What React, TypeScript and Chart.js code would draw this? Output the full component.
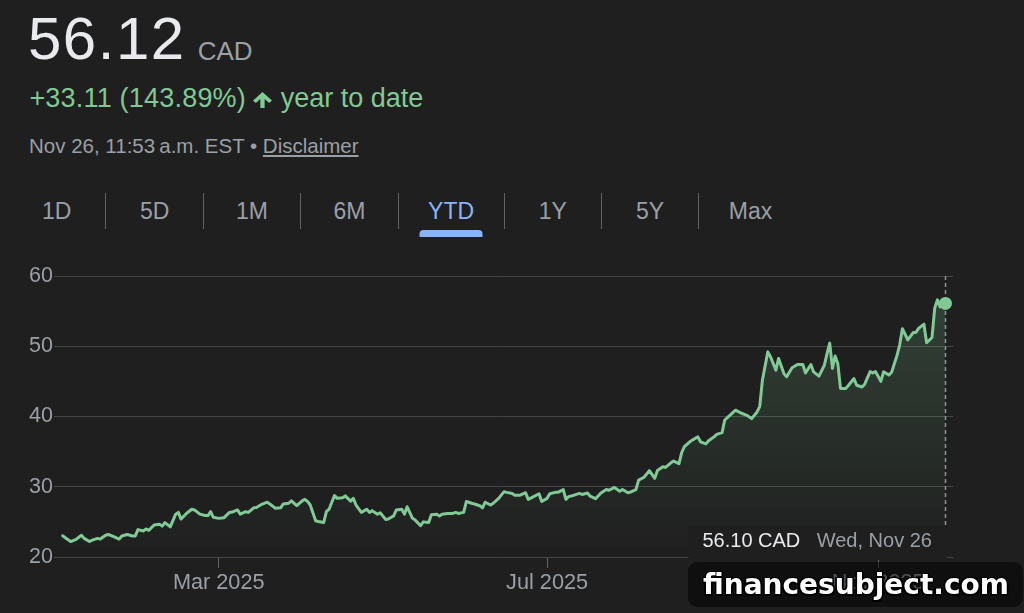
import React, { useEffect, useRef } from 'react';
import { Chart, registerables } from 'chart.js';

Chart.register(...registerables);

// ---------- data ----------
// day of year (Jan 1 = 0), 2025, trading days
const days = [
  1, 2, 4, 6, 8, 9, 11, 12, 14, 15,
  17, 18, 20, 22, 23, 25, 27, 28, 29, 31,
  32, 33, 35, 37, 38, 39, 41, 43, 44, 45,
  47, 49, 50, 52, 54, 55, 56, 57, 59, 61,
  63, 64, 66, 67, 69, 70, 72, 73, 75, 77,
  78, 80, 82, 83, 85, 86, 88, 90, 91, 92,
  93, 95, 96, 98, 99, 100, 102, 103, 105, 106,
  108, 109, 110, 112, 114, 115, 116, 118, 119, 121,
  122, 124, 125, 127, 128, 129, 131, 132, 134, 135,
  137, 138, 140, 141, 142, 144, 146, 147, 148, 150,
  151, 153, 154, 156, 157, 158, 160, 161, 163, 165,
  166, 168, 169, 171, 173, 174, 176, 178, 179, 181,
  182, 184, 185, 187, 188, 189, 191, 193, 194, 196,
  197, 199, 201, 203, 204, 206, 208, 209, 211, 212,
  214, 215, 217, 219, 221, 222, 224, 225, 227, 228,
  230, 231, 232, 234, 235, 237, 238, 240, 241, 243,
  244, 246, 247, 249, 251, 253, 255, 257, 259, 260,
  261, 263, 264, 266, 267, 269, 270, 272, 274, 276,
  277, 279, 280, 282, 284, 285, 286, 287, 288, 289,
  290, 292, 293, 295, 296, 298, 299, 301, 302, 303,
  305, 306, 308, 309, 311, 312, 313, 315, 317, 318,
  319, 321, 322, 324, 325, 326, 327, 329,
];

const prices = [
  23.03, 22.75, 22.2, 22.5, 23.1, 22.65, 22.2, 22.4, 22.65, 22.55,
  23.1, 23.2, 22.9, 22.55, 23.0, 23.2, 23.0, 23.0, 23.9, 23.7,
  24.0, 23.8, 24.55, 24.65, 24.4, 24.9, 24.3, 26.1, 26.35, 25.4,
  26.2, 26.8, 26.7, 26.1, 25.9, 25.9, 26.45, 25.65, 25.5, 25.6,
  26.35, 26.4, 26.7, 26.1, 26.45, 26.35, 27.0, 27.05, 27.5, 27.8,
  27.55, 26.95, 27.0, 27.55, 27.65, 28.0, 27.3, 28.0, 28.2, 27.9,
  27.4, 25.15, 25.05, 24.9, 26.45, 26.8, 28.75, 28.35, 28.45, 28.7,
  27.95, 28.35, 27.4, 26.35, 26.8, 26.35, 26.6, 26.1, 26.3, 25.35,
  25.4, 25.85, 26.7, 26.8, 26.1, 27.15, 25.5, 25.25, 24.45, 25.0,
  24.9, 26.0, 26.1, 25.85, 26.1, 26.2, 26.2, 26.35, 26.2, 26.35,
  27.9, 27.65, 27.55, 27.3, 27.0, 27.8, 27.4, 27.65, 28.35, 29.3,
  29.2, 29.05, 28.8, 28.8, 29.15, 28.2, 28.6, 29.0, 27.9, 28.35,
  29.0, 29.2, 29.2, 29.6, 28.2, 28.6, 28.8, 29.05, 28.9, 29.1,
  28.65, 28.3, 29.1, 29.6, 29.5, 29.9, 29.35, 29.6, 29.15, 29.25,
  29.6, 30.95, 31.35, 32.3, 31.2, 32.3, 32.85, 32.75, 33.4, 33.65,
  33.3, 34.85, 35.7, 36.4, 36.65, 37.1, 36.4, 36.1, 36.55, 37.1,
  37.45, 37.7, 39.5, 40.2, 40.9, 40.5, 40.2, 39.7, 40.65, 41.4,
  45.2, 49.2, 48.5, 46.6, 48.25, 46.1, 45.65, 46.95, 47.4, 47.4,
  46.2, 47.4, 46.35, 45.75, 47.3, 48.95, 50.45, 46.85, 48.6, 47.55,
  44.0, 44.0, 44.45, 45.4, 44.45, 44.2, 44.6, 46.4, 46.2, 46.4,
  45.0, 46.35, 45.9, 46.3, 48.7, 50.2, 52.5, 50.9, 51.95, 51.95,
  52.55, 53.15, 50.5, 51.25, 55.4, 56.6, 55.6, 56.1,
];

const xTickDays = [59, 181, 304];
const xTickLabels = ['Mar 2025', 'Jul 2025', 'Nov 2025'];
const yTicks = [20, 30, 40, 50, 60];
const X_MIN = -2.2;
const X_MAX = 331.8;

const tabs = ['1D', '5D', '1M', '6M', 'YTD', '1Y', '5Y', 'Max'];
const activeTab = 'YTD';

const priceText = '56.12';
const currencyText = 'CAD';
const changeText = '+33.11 (143.89%)';
const periodText = 'year to date';
const dateText = 'Nov 26, 11:53\u202Fa.m. EST \u2022 ';
const disclaimerText = 'Disclaimer';
const tooltipPrice = '56.10 CAD';
const tooltipDate = 'Wed, Nov 26';
const watermarkText = 'financesubject.com';

// ---------- styles ----------
const BG = '#1f1f1f';
const GREEN = '#81c995';
const GREY = '#9aa0a6';
const WHITE = '#e8eaed';
const BLUE = '#8ab4f8';
const FONT = '"Liberation Sans", Arial, Helvetica, sans-serif';

const markerPlugin = {
  id: 'marker',
  beforeDatasetsDraw(chart: any) {
    const { ctx, chartArea, scales } = chart;
    const x = Math.round(scales.x.getPixelForValue(days[days.length - 1])) + 0.5;
    ctx.save();
    ctx.strokeStyle = '#8e9196';
    ctx.lineWidth = 1.5;
    ctx.setLineDash([4, 3]);
    ctx.beginPath();
    ctx.moveTo(x, chartArea.top);
    ctx.lineTo(x, chartArea.bottom);
    ctx.stroke();
    ctx.restore();
  },
  afterDraw(chart: any) {
    const { ctx, chartArea, scales } = chart;
    const lastX = scales.x.getPixelForValue(days[days.length - 1]);
    const bottom = chartArea.bottom;
    ctx.save();
    ctx.fillStyle = BG;
    ctx.fillRect(lastX - 257, bottom - 32, 258.5, 35);
    ctx.font = `20px ${FONT}`;
    ctx.textBaseline = 'alphabetic';
    ctx.textAlign = 'left';
    ctx.fillStyle = WHITE;
    ctx.fillText(tooltipPrice, lastX - 243, bottom - 10);
    ctx.textAlign = 'right';
    ctx.fillStyle = GREY;
    ctx.fillText(tooltipDate, lastX - 13.5, bottom - 10);
    ctx.restore();
  },
};

function PriceChart() {
  const ref = useRef<HTMLCanvasElement | null>(null);
  useEffect(() => {
    if (!ref.current) return;
    const last = days.length - 1;
    const chart = new Chart(ref.current, {
      type: 'line',
      data: {
        datasets: [
          {
            data: days.map((d, i) => ({ x: d, y: prices[i] })),
            borderColor: GREEN,
            borderWidth: 3,
            borderJoinStyle: 'round',
            borderCapStyle: 'round',
            tension: 0,
            fill: 'start',
            backgroundColor: (c: any) => {
              const area = c.chart.chartArea;
              if (!area) return 'rgba(0,0,0,0)';
              const g = c.chart.ctx.createLinearGradient(0, area.top, 0, area.bottom);
              g.addColorStop(0, 'rgba(129,201,149,0.22)');
              g.addColorStop(1, 'rgba(129,201,149,0)');
              return g;
            },
            pointRadius: (c: any) => (c.dataIndex === last ? 6.5 : 0),
            pointHoverRadius: 0,
            pointBackgroundColor: GREEN,
            pointBorderWidth: 0,
          },
        ],
      },
      options: {
        responsive: false,
        animation: false,
        events: [],
        layout: { padding: { top: 26, right: 71, left: 0, bottom: 0 } },
        plugins: { legend: { display: false }, tooltip: { enabled: false } },
        scales: {
          x: {
            type: 'linear',
            min: X_MIN,
            max: X_MAX,
            afterBuildTicks: (s: any) => {
              s.ticks = xTickDays.map((v) => ({ value: v }));
            },
            afterFit: (s: any) => {
              s.height = 56;
            },
            grid: {
              drawOnChartArea: false,
              drawTicks: true,
              tickLength: 11,
              color: '#5f6368',
              tickColor: '#5f6368',
              tickWidth: 1,
            },
            border: { display: false },
            ticks: {
              autoSkip: false,
              maxRotation: 0,
              color: GREY,
              padding: 2,
              font: { family: FONT, size: 21.7 },
              callback: (_v: any, i: number) => xTickLabels[i],
            },
          },
          y: {
            min: 20,
            max: 60,
            afterBuildTicks: (s: any) => {
              s.ticks = yTicks.map((v) => ({ value: v }));
            },
            afterFit: (s: any) => {
              s.width = 54;
            },
            grid: { color: '#444746', drawTicks: false, lineWidth: 1 },
            border: { display: false },
            ticks: {
              color: GREY,
              padding: 1,
              font: { family: FONT, size: 21.5 },
            },
          },
        },
      } as any,
      plugins: [markerPlugin],
    });
    return () => chart.destroy();
  }, []);
  return (
    <canvas
      ref={ref}
      width={1024}
      height={363}
      style={{ position: 'absolute', left: 0, top: 250, width: 1024, height: 363 }}
    />
  );
}

export default function App() {
  const abs = (left: number, top: number, size: number, color: string, extra: any = {}) => ({
    position: 'absolute' as const,
    left,
    top,
    fontSize: size,
    lineHeight: 1,
    color,
    whiteSpace: 'nowrap' as const,
    ...extra,
  });
  return (
    <div style={{ position: 'fixed', inset: 0, background: BG, overflow: 'hidden', fontFamily: FONT }}>
      <div style={abs(28, 9, 60, WHITE, { letterSpacing: 1.5 })}>{priceText}</div>
      <div style={abs(197.7, 38, 26, GREY)}>{currencyText}</div>
      <div style={abs(29.4, 85.4, 27, GREEN, { letterSpacing: 0.2 })}>{changeText}</div>
      <svg
        style={{ position: 'absolute', left: 253, top: 91.7 }}
        width={19}
        height={16.6}
        viewBox="0 0 16 16"
        preserveAspectRatio="none"
      >
        <path d="M8 0 L16 8.3 L13.6 10.6 L9.8 6.7 V16 H6.2 V6.7 L2.4 10.6 L0 8.3 Z" fill={GREEN} />
      </svg>
      <div style={abs(280.8, 85.4, 27, GREEN)}>{periodText}</div>
      <div style={abs(29, 135.5, 20.5, GREY)}>
        {dateText}
        <span style={{ textDecoration: 'underline' }}>{disclaimerText}</span>
      </div>
      <div style={{ position: 'absolute', left: 8, top: 193.3, height: 36, display: 'flex' }}>
        {tabs.map((t, i) => (
          <div
            key={t}
            style={{
              position: 'relative',
              boxSizing: 'border-box',
              minWidth: 97.4,
              padding: '0 29.5px',
              height: 36,
              lineHeight: '36px',
              fontSize: 23,
              textAlign: 'center',
              color: t === activeTab ? BLUE : GREY,
              borderLeft: i === 0 ? 'none' : '1px solid #5f6368',
            }}
          >
            {t}
            {t === activeTab && (
              <div
                style={{
                  position: 'absolute',
                  left: '50%',
                  transform: 'translateX(-50%)',
                  top: 37,
                  width: 63,
                  height: 7,
                  background: BLUE,
                  borderRadius: '4px 4px 0 0',
                }}
              />
            )}
          </div>
        ))}
      </div>
      <PriceChart />
      <div
        style={{
          position: 'absolute',
          left: 688,
          top: 562,
          width: 335,
          height: 45,
          borderRadius: 9,
          background: 'rgba(0,0,0,0.5)',
        }}
      />
      <div
        style={{
          position: 'absolute',
          left: 703,
          top: 571.3,
          fontFamily: '"DejaVu Sans", sans-serif',
          fontWeight: 'bold',
          fontSize: 28,
          lineHeight: 1,
          color: '#ffffff',
          whiteSpace: 'nowrap',
          textShadow:
            '-1.5px -1.5px 0 #000, 1.5px -1.5px 0 #000, -1.5px 1.5px 0 #000, 1.5px 1.5px 0 #000, 0 0 2px #000',
        }}
      >
        {watermarkText}
      </div>
    </div>
  );
}
